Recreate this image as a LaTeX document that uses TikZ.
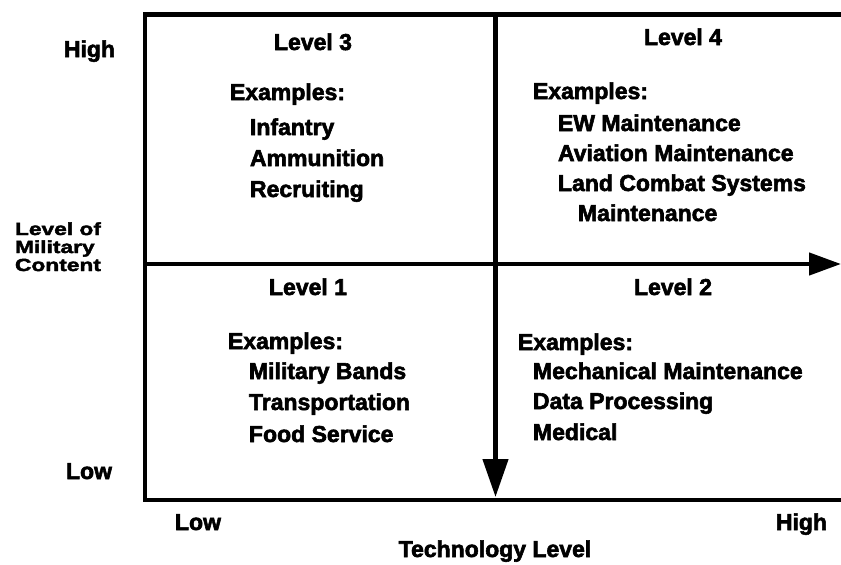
\documentclass[tikz,border=0pt]{standalone}
\usepackage{fontspec}
\newfontfamily\hv[FakeBold=2.5]{Liberation Sans Bold}
\newfontfamily\hvwide[FakeStretch=1.3,FakeBold=2.5]{Liberation Sans Bold}
\usetikzlibrary{arrows.meta}
\begin{document}
\begin{tikzpicture}[x=1pt,y=-1pt,
  txt/.style={inner sep=0pt,outer sep=0pt,font=\hv\fontsize{23}{27}\selectfont,anchor=base west},
  ttl/.style={txt,anchor=base},
  axl/.style={txt,font=\hvwide\fontsize{17.5}{18}\selectfont},
  ln/.style={line width=4.5pt},
]
\useasboundingbox (0,0) rectangle (841,565);
% frame coordinates
\coordinate (tl) at (145,14.5);
\coordinate (tr) at (841,14.5);
\coordinate (bl) at (145,500);
\coordinate (br) at (841,500);
\coordinate (ml) at (145,264);
\coordinate (mr) at (841,264);
\coordinate (vt) at (495.5,14.5);
\coordinate (vb) at (495.5,497);
\draw[ln,line cap=rect] (tr) -- (tl) -- (bl) -- (br);
\draw[ln,-{Triangle[length=32pt,width=22pt]}] (ml) -- (mr);
\draw[ln,-{Triangle[length=38pt,width=25pt]}] (vt) -- (vb);
% axis labels
\node[txt,anchor=base east] (yhigh) at (115,57) {High};
\node[txt,anchor=base east] (ylow) at (112,479) {Low};
\node[axl] (ya1) at (15,235) {Level of};
\node[axl] (ya2) at (15,253) {Military};
\node[axl] (ya3) at (15,271) {Content};
\node[txt] (xlow) at (175,530) {Low};
\node[txt,anchor=base east] (xhigh) at (827,530) {High};
\node[ttl] (xtitle) at (495,557) {Technology Level};
% Level 3
\node[ttl] (l3) at (313,50) {Level 3};
\node[txt] (l3e) at (230,100) {Examples:};
\node[txt] (l3a) at (250,135) {Infantry};
\node[txt] (l3b) at (250,166) {Ammunition};
\node[txt] (l3c) at (250,197) {Recruiting};
% Level 4
\node[ttl] (l4) at (683,45) {Level 4};
\node[txt] (l4e) at (533,99) {Examples:};
\node[txt] (l4a) at (558,131) {EW Maintenance};
\node[txt] (l4b) at (558,161) {Aviation Maintenance};
\node[txt] (l4c) at (558,191) {Land Combat Systems};
\node[txt] (l4d) at (578,221) {Maintenance};
% Level 1
\node[ttl] (l1) at (308,295) {Level 1};
\node[txt] (l1e) at (228,349) {Examples:};
\node[txt] (l1a) at (249,379) {Military Bands};
\node[txt] (l1b) at (249,410) {Transportation};
\node[txt] (l1c) at (249,442) {Food Service};
% Level 2
\node[ttl] (l2) at (673,295) {Level 2};
\node[txt] (l2e) at (518,350) {Examples:};
\node[txt] (l2a) at (533,379) {Mechanical Maintenance};
\node[txt] (l2b) at (533,409) {Data Processing};
\node[txt] (l2c) at (533,440) {Medical};
\end{tikzpicture}
\end{document}
